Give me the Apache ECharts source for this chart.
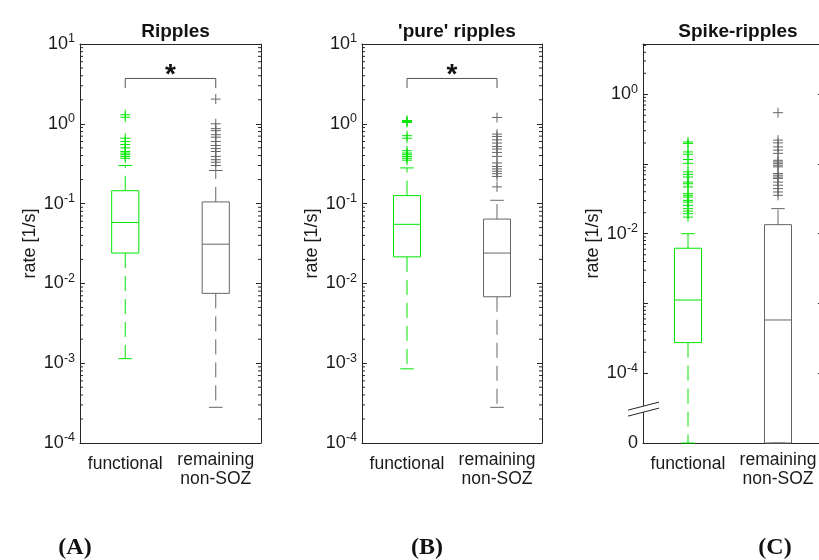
<!DOCTYPE html>
<html>
<head>
<meta charset="utf-8">
<script src="https://cdn.jsdelivr.net/npm/echarts@6/dist/echarts.min.js"></script>
<style>
  html, body { margin: 0; background: #fff; }
  #chart { width: 819px; height: 560px; }
</style>
</head>
<body>
<div id="chart"></div>
<script>
// categories and panel titles
const categories = ['functional', 'remaining\nnon-SOZ'];
const panelTitles = ['Ripples', "'pure' ripples", 'Spike-ripples'];
const panelLetters = ['A', 'B', 'C'];

// box stats: [lower whisker, Q1, median, Q3, upper whisker]  (rate, 1/s)
const ripplesFunctional = [0.00114, 0.024, 0.058, 0.145, 0.30];
const ripplesRemaining = [0.00028, 0.0075, 0.031, 0.105, 0.26];
const pureFunctional = [0.00085, 0.0215, 0.055, 0.126, 0.28];
const pureRemaining = [0.00028, 0.0068, 0.024, 0.064, 0.11];
const spikeFunctional = [0, 0.000275, 0.00112, 0.0062, 0.010];
const spikeRemaining = [0, 0, 0.00058, 0.0135, 0.0229];

// outliers
const ripplesOutFunctional = [1.30, 1.21, 0.66, 0.60, 0.55, 0.50, 0.45, 0.43, 0.41, 0.39, 0.37];
const ripplesOutRemaining = [2.04, 1.0, 0.87, 0.82, 0.73, 0.68, 0.60, 0.535, 0.49, 0.45, 0.39, 0.355, 0.33, 0.30];
const pureOutFunctional = [1.10, 1.07, 1.04, 0.71, 0.66, 0.46, 0.43, 0.41, 0.39, 0.37, 0.35];
const pureOutRemaining = [1.2, 0.743, 0.694, 0.63, 0.574, 0.52, 0.483, 0.438, 0.39, 0.323, 0.292, 0.272, 0.254, 0.237, 0.219, 0.162];
const spikeOutFunctional = [0.207, 0.197, 0.149, 0.138, 0.116, 0.102, 0.077, 0.071, 0.065, 0.055, 0.052, 0.047,
  0.0376, 0.0356, 0.0336, 0.0301, 0.0285, 0.0255, 0.0229, 0.0211, 0.0194, 0.0173];
const spikeOutRemaining = [0.544, 0.22, 0.201, 0.176, 0.158, 0.142, 0.113, 0.107, 0.102, 0.096, 0.091,
  0.073, 0.069, 0.065, 0.062, 0.055, 0.0496, 0.0444, 0.0397, 0.0356];

// y ranges of the three panels (log axes); zero is drawn at the bottom of panel C
const yMins = [1e-4, 1e-4, 1e-5];
const yMaxs = [10, 10, 5.25];
// significance bracket level and the drop of its ends
const bracketLevel = 3.7;
const bracketFoot = 2.8;

const AXIS = '#262626';
const GREEN = '#00e600';
const GRAY = '#666666';
const FONT = '"Liberation Sans", Arial, sans-serif';
const boxColors = [GREEN, GRAY];

const gridLefts = [80, 362, 643];
const gridWidths = [181, 180, 180];

const panelBoxes = [
  [ripplesFunctional, ripplesRemaining],
  [pureFunctional, pureRemaining],
  [spikeFunctional, spikeRemaining]
];
const panelOutliers = [
  [ripplesOutFunctional, ripplesOutRemaining],
  [pureOutFunctional, pureOutRemaining],
  [spikeOutFunctional, spikeOutRemaining]
];

const chart = echarts.init(document.getElementById('chart'));

function floorZero(v, p) { return v <= 0 ? yMins[p] : v; }

function renderBox(params, api) {
  const c = api.value(0);
  const color = boxColors[c];
  const band = api.size([1, 0])[0];
  const half = band * 0.15, cap = band * 0.075;
  const x = api.coord([c, 1])[0];
  const y = k => api.coord([c, api.value(k)])[1];
  const lw = y(1), q1 = y(2), md = y(3), q3 = y(4), uw = y(5);
  const st = { stroke: color, lineWidth: 1, fill: null };
  const dash = { stroke: color, lineWidth: 1, lineDash: [15, 8] };
  return {
    type: 'group',
    children: [
      { type: 'line', shape: { x1: x, y1: q3, x2: x, y2: uw }, style: dash },
      { type: 'line', shape: { x1: x, y1: q1, x2: x, y2: lw }, style: dash },
      { type: 'line', shape: { x1: x - cap, y1: uw, x2: x + cap, y2: uw }, style: st },
      { type: 'line', shape: { x1: x - cap, y1: lw, x2: x + cap, y2: lw }, style: st },
      { type: 'rect', shape: { x: x - half, y: q3, width: 2 * half, height: q1 - q3 }, style: st },
      { type: 'line', shape: { x1: x - half, y1: md, x2: x + half, y2: md }, style: st }
    ]
  };
}

function renderPlus(params, api) {
  const c = api.value(0);
  const p = api.coord([c, api.value(1)]);
  const h = 5;
  const st = { stroke: boxColors[c], lineWidth: 1 };
  return {
    type: 'group',
    children: [
      { type: 'line', shape: { x1: p[0] - h, y1: p[1], x2: p[0] + h, y2: p[1] }, style: st },
      { type: 'line', shape: { x1: p[0], y1: p[1] - h, x2: p[0], y2: p[1] + h }, style: st }
    ]
  };
}

function renderMinor(params, api) {
  const cs = params.coordSys;
  const yy = api.coord([0, api.value(1)])[1];
  const st = { stroke: AXIS, lineWidth: 1 };
  return {
    type: 'group',
    children: [
      { type: 'line', shape: { x1: cs.x, y1: yy, x2: cs.x + 3, y2: yy }, style: st },
      { type: 'line', shape: { x1: cs.x + cs.width - 3, y1: yy, x2: cs.x + cs.width, y2: yy }, style: st }
    ]
  };
}

function renderBracket(params, api) {
  const a = api.coord([0, api.value(1)]);
  const b = api.coord([1, api.value(1)]);
  const f = api.coord([0, api.value(2)])[1];
  return {
    type: 'group',
    children: [
      { type: 'polyline', shape: { points: [[a[0], f], [a[0], a[1]], [b[0], b[1]], [b[0], f]] },
        style: { stroke: '#555', lineWidth: 1, fill: null } },
      { type: 'text', style: { text: '*', x: (a[0] + b[0]) / 2, y: a[1] - 3,
        font: 'bold 28px ' + FONT, fill: '#111', align: 'center', verticalAlign: 'middle' } }
    ]
  };
}

function tickLabel(p) {
  return function (v) {
    const e = Math.round(Math.log10(v));
    if (p === 2) {
      if (e === -5) return '{b|0}';
      if (e % 2 !== 0) return '';
    }
    return '{b|10}{s|' + e + '}';
  };
}

const grids = [], xAxes = [], yAxes = [], series = [], titles = [];

for (let p = 0; p < 3; p++) {
  grids.push({ left: gridLefts[p], top: 44, width: gridWidths[p], height: 399, show: false, outerBoundsMode: 'none' });
  titles.push({
    text: panelTitles[p], left: gridLefts[p] + gridWidths[p] / 2, top: 17, textAlign: 'center',
    textStyle: { fontFamily: FONT, fontSize: 19, fontWeight: 'bold', color: '#111' }
  });
  xAxes.push({
    type: 'category', gridIndex: p, data: categories, position: 'bottom',
    axisLine: { lineStyle: { color: AXIS, width: 1 } },
    axisTick: { inside: true, alignWithLabel: true, length: 5, lineStyle: { color: AXIS } },
    axisLabel: {
      interval: 0, hideOverlap: false,
      margin: 8, color: '#1a1a1a', fontFamily: FONT, fontSize: 17.5, lineHeight: 19, verticalAlign: 'top',
      formatter: v => v.indexOf('\n') < 0 ? '{f|' + v + '}' : v,
      rich: { f: { fontFamily: FONT, fontSize: 17.5, lineHeight: 19, padding: [8, 0, 0, 0], color: '#1a1a1a' } }
    },
    splitLine: { show: false }
  });
  xAxes.push({
    type: 'category', gridIndex: p, data: categories, position: 'top',
    axisLine: { lineStyle: { color: AXIS, width: 1 } },
    axisTick: { inside: true, alignWithLabel: true, length: 5, lineStyle: { color: AXIS } },
    axisLabel: { show: false }, splitLine: { show: false }
  });
  yAxes.push({
    type: 'log', logBase: 10, gridIndex: p, min: yMins[p], max: yMaxs[p], position: 'left',
    name: 'rate [1/s]', nameLocation: 'middle', nameGap: 41,
    nameTextStyle: { fontFamily: FONT, fontSize: 18, color: '#1a1a1a' },
    axisLine: { show: true, lineStyle: { color: AXIS, width: 1 } },
    axisTick: { show: true, inside: true, length: 5, lineStyle: { color: AXIS } },
    axisLabel: {
      margin: 5, showMaxLabel: p < 2, hideOverlap: false, formatter: tickLabel(p),
      rich: {
        b: { fontFamily: FONT, fontSize: 18, color: '#1a1a1a' },
        s: { fontFamily: FONT, fontSize: 12.5, color: '#1a1a1a', padding: [0, 0, 10, 0] }
      }
    },
    splitLine: { show: false }, minorTick: { show: false }
  });
  yAxes.push({
    type: 'log', logBase: 10, gridIndex: p, min: yMins[p], max: yMaxs[p], position: 'right',
    axisLine: { show: true, lineStyle: { color: AXIS, width: 1 } },
    axisTick: { show: true, inside: true, length: 5, lineStyle: { color: AXIS } },
    axisLabel: { show: false }, splitLine: { show: false }
  });

  // minor ticks 2..9 per decade
  const minor = [];
  for (let e = -4; e <= 1; e++) {
    for (let k = 2; k <= 9; k++) {
      const v = k * Math.pow(10, e);
      if (v > yMins[p] && v < yMaxs[p] && v > 1e-4) minor.push([0, v]);
    }
  }
  series.push({ type: 'custom', xAxisIndex: 2 * p, yAxisIndex: 2 * p, data: minor, renderItem: renderMinor, silent: true, z: 1 });

  const boxes = panelBoxes[p].map((b, c) => [c].concat(b.map(v => floorZero(v, p))));
  series.push({ type: 'custom', xAxisIndex: 2 * p, yAxisIndex: 2 * p, data: boxes, renderItem: renderBox, z: 3 });

  const outs = [];
  panelOutliers[p].forEach((arr, c) => arr.forEach(v => outs.push([c, v])));
  series.push({ type: 'custom', xAxisIndex: 2 * p, yAxisIndex: 2 * p, data: outs, renderItem: renderPlus, z: 4 });

  if (p < 2) {
    series.push({ type: 'custom', xAxisIndex: 2 * p, yAxisIndex: 2 * p,
      data: [[0, bracketLevel, bracketFoot]], renderItem: renderBracket, z: 5, clip: false });
  }
}

chart.setOption({
  backgroundColor: '#ffffff',
  animation: false,
  title: titles,
  grid: grids,
  xAxis: xAxes,
  yAxis: yAxes,
  series: series
});

// axis break on panel C and the panel letters
const brk = chart.convertToPixel({ yAxisIndex: 4 }, Math.pow(10, -4.5));
const bx0 = 628, bx1 = 659;
chart.setOption({
  graphic: [
    { type: 'polygon', shape: { points: [[bx0, brk + 2], [bx1, brk - 6], [bx1, brk], [bx0, brk + 8]] },
      style: { fill: '#fff' }, z: 100 },
    { type: 'line', shape: { x1: bx0, y1: brk + 2, x2: bx1, y2: brk - 6 }, style: { stroke: AXIS, lineWidth: 1 }, z: 101 },
    { type: 'line', shape: { x1: bx0, y1: brk + 8, x2: bx1, y2: brk }, style: { stroke: AXIS, lineWidth: 1 }, z: 101 },
    ...panelLetters.map((l, i) => ({
      type: 'text', x: [75, 427, 775][i], y: 548, z: 100,
      style: {
        text: '(' + l + ')', font: 'bold 24px "Liberation Serif", serif', fill: '#111',
        align: 'center', verticalAlign: 'middle'
      }
    }))
  ]
});
</script>
</body>
</html>
